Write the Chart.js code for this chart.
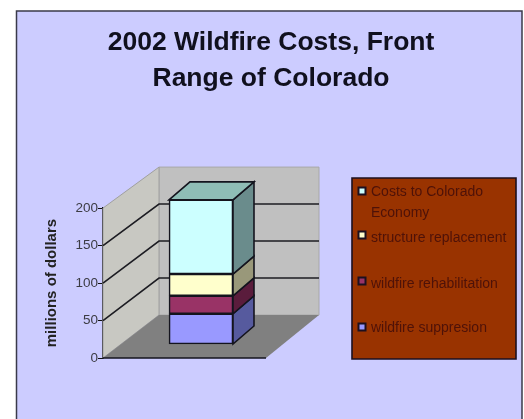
<!DOCTYPE html>
<html><head><meta charset="utf-8">
<style>html,body{margin:0;padding:0;background:#fff}canvas{display:block;filter:blur(0.6px)}</style>
<script src="https://cdn.jsdelivr.net/npm/chart.js@4"></script></head>
<body><div style="width:524px;height:419px"><canvas id="c" width="524" height="419"></canvas></div>
<script>
const categories = ["2002"];
const titleLines = ["2002 Wildfire Costs, Front", "Range of Colorado"];
const axisTitle = "millions of dollars";
const suppression = [41];
const rehabilitation = [24];
const structure = [29];
const economy = [99];
const seriesNames = ["wildfire suppresion", "wildfire rehabilitation", "structure replacement", "Costs to Colorado Economy"];
const faceColors = ["#9999ff", "#993366", "#ffffcc", "#ccffff"];
const sideColors = ["#565a9e", "#5a1c3c", "#99987a", "#6a8c8c"];
const topColor = "#8fbdb6";

const D = {wx:56, wy:43, bx:16.5, by:13.5, sx:21, sy:18};
const legendRows = [
  {i:3, lines:["Costs to Colorado", "Economy"], y:192, my:191},
  {i:2, lines:["structure replacement"], y:238, my:235},
  {i:1, lines:["wildfire rehabilitation"], y:284, my:281},
  {i:0, lines:["wildfire suppresion"], y:328, my:327}
];
function poly(ctx, pts, fill, stroke, lw){
  ctx.beginPath();
  pts.forEach((p,k)=>k?ctx.lineTo(p[0],p[1]):ctx.moveTo(p[0],p[1]));
  ctx.closePath();
  if(fill){ctx.fillStyle=fill;ctx.fill();}
  if(stroke){ctx.strokeStyle=stroke;ctx.lineWidth=lw||1;ctx.stroke();}
}
const scene = {
  id:"scene",
  beforeDraw(chart){
    const ctx=chart.ctx;
    ctx.save();
    ctx.fillStyle="#fff";ctx.fillRect(0,0,524,419);
    ctx.fillStyle="#ccccff";ctx.fillRect(16,11,506,408);
    ctx.strokeStyle="#3a3a4a";ctx.lineWidth=1.5;
    ctx.beginPath();ctx.moveTo(16.5,419);ctx.lineTo(16.5,11);ctx.lineTo(522,11);ctx.lineTo(522,419);ctx.stroke();
    ctx.restore();
  },
  beforeDatasetsDraw(chart){
    const ctx=chart.ctx, a=chart.chartArea, y=chart.scales.y;
    const L=a.left,R=a.right,T=a.top,B=a.bottom;
    const bx=L+D.wx, rx=R+D.wx-3;
    const backY=py=>py-D.wy+(B-py)*2/(B-T);
    ctx.save();
    poly(ctx,[[bx,backY(T)],[rx,backY(T)],[rx,backY(B)],[bx,backY(B)]],"#c0c0c0","#a8a8a8");
    poly(ctx,[[L,T],[bx,backY(T)],[bx,backY(B)],[L,B]],"#c8c8c2","#a0a0a0");
    poly(ctx,[[L,B],[bx,backY(B)],[rx,backY(B)],[R,B]],"#808080");
    ctx.lineWidth=1.6;
    y.ticks.forEach(t=>{
      if(t.value===0||t.value===200)return;
      const py=y.getPixelForValue(t.value);
      ctx.strokeStyle="#1c1c22";
      ctx.beginPath();ctx.moveTo(L,py);ctx.lineTo(bx,backY(py));ctx.lineTo(rx,backY(py));ctx.stroke();
    });
    ctx.beginPath();ctx.moveTo(L,B);ctx.lineTo(R,B);ctx.strokeStyle="#14141e";ctx.lineWidth=1.6;ctx.stroke();
    ctx.restore();
    ctx.save();
    ctx.translate(D.bx,-D.by);
  },
  afterDatasetsDraw(chart){
    const ctx=chart.ctx;
    chart.data.datasets.forEach((ds,i)=>{
      const b=chart.getDatasetMeta(i).data[0];
      const xr=b.x+b.width/2, xl=b.x-b.width/2;
      poly(ctx,[[xr,b.y],[xr+D.sx,b.y-D.sy],[xr+D.sx,b.base-D.sy],[xr,b.base]],sideColors[i],"#14141e",1.6);
      if(i===chart.data.datasets.length-1)
        poly(ctx,[[xl,b.y],[xl+D.sx,b.y-D.sy],[xr+D.sx,b.y-D.sy],[xr,b.y]],topColor,"#14141e",1.6);
    });
    ctx.restore();
    ctx.save();
    poly(ctx,[[352,178],[516,178],[516,359],[352,359]],"#993300","#1c1020",1.6);
    ctx.font="14px 'Liberation Sans'";
    ctx.textBaseline="middle";
    legendRows.forEach(r=>{
      poly(ctx,[[358.5,r.my-3.5],[365.5,r.my-3.5],[365.5,r.my+3.5],[358.5,r.my+3.5]],faceColors[r.i],"#1c1020",2);
      ctx.fillStyle="#4e1208";
      r.lines.forEach((s,k)=>ctx.fillText(s,371,r.y+k*21));
    });
    ctx.restore();
  }
};
new Chart(document.getElementById("c"),{
  type:"bar",
  data:{labels:categories,datasets:[suppression,rehabilitation,structure,economy].map((v,i)=>({
    label:seriesNames[i],data:v,backgroundColor:faceColors[i],borderColor:"#14141e",borderWidth:1.6,
    borderSkipped:false,barThickness:64,clip:false
  }))},
  plugins:[scene],
  options:{
    responsive:false,animation:false,
    layout:{padding:{left:18,right:0,top:0,bottom:61}},
    plugins:{
      legend:{display:false},tooltip:{enabled:false},
      title:{display:true,text:titleLines,color:"#10101e",
        font:{family:"'Liberation Sans'",size:26.5,weight:"bold",lineHeight:1.36},
        padding:{top:25,bottom:111}}
    },
    scales:{
      x:{stacked:true,display:false},
      y:{stacked:true,min:0,max:200,
        afterFit(s){s.width=85;},
        ticks:{stepSize:50,color:"#3c3c44",padding:0,font:{family:"'Liberation Sans'",size:13.5}},
        grid:{drawOnChartArea:false,color:"#111",tickLength:5},
        border:{color:"#14141e",width:1.6},
        title:{display:true,text:axisTitle,color:"#222",padding:{top:25,bottom:0},
          font:{family:"'Liberation Sans'",size:15,weight:"bold"}}
      },
      pad:{position:"right",display:true,afterFit(s){s.width=258;},
        ticks:{display:false},grid:{display:false},border:{display:false}}
    }
  }
});
</script></body></html>
